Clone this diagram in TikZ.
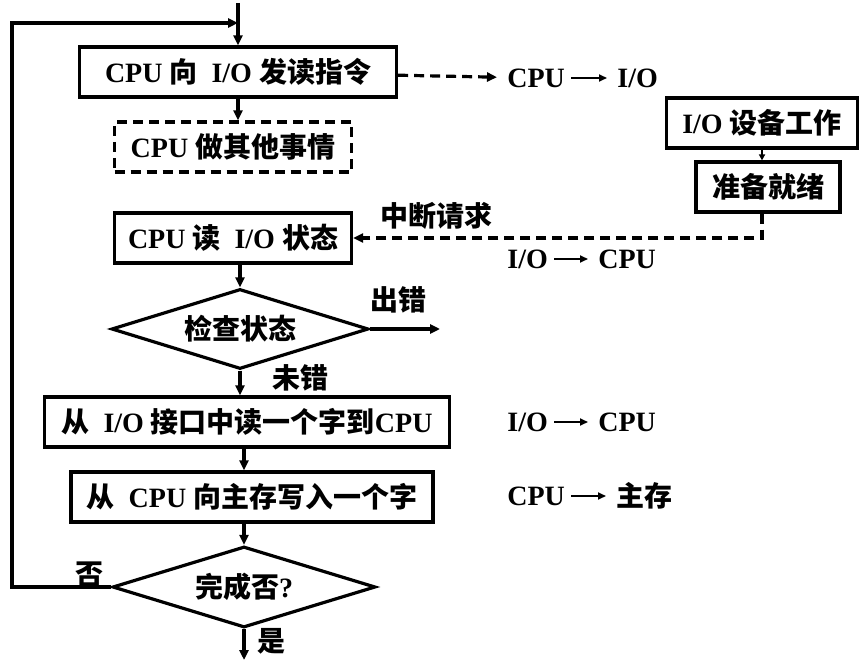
\documentclass[tikz,border=0pt]{standalone}
\usepackage{fontspec}
\setmainfont{Liberation Serif}
\newfontfamily\zhfont{Noto Sans CJK SC}
\newcommand{\zh}[1]{{\zhfont #1}}
\usetikzlibrary{arrows.meta, shapes.geometric}

\begin{document}
\begin{tikzpicture}[x=0.5pt, y=-0.5pt,
    font=\fontsize{14pt}{16pt}\selectfont\bfseries,
    procbox/.style={draw, line width=1.6pt, minimum height=25pt, inner sep=2pt},
    waitbox/.style={procbox, dashed, dash pattern=on 5pt off 3pt},
    testbox/.style={draw, diamond, line width=1.6pt, inner sep=0pt, aspect=3.2},
    flow/.style={line width=1.6pt, -{Triangle[length=5pt, width=4.5pt]}},
    dflow/.style={flow, dash pattern=on 5pt off 3pt},
    tag/.style={inner sep=1pt},
    xfer/.style={line width=0.9pt, shorten <=2pt, shorten >=4pt, -{Triangle[length=4pt, width=3.5pt]}}
  ]
  \useasboundingbox (0,0) rectangle (866,662);

  \node[procbox, minimum width=158.5pt] (sendcmd) at (238,72) {CPU \zh{向}\ \ I/O \zh{发读指令}};
  \node[waitbox, minimum width=118.5pt] (other) at (233,147) {CPU \zh{做其他事情}};
  \node[procbox, minimum width=118.5pt] (readst) at (233,238) {CPU \zh{读}\ \ I/O \zh{状态}};
  \node[testbox, minimum width=128.5pt, minimum height=40pt] (check) at (240,329) {\zh{检查状态}};
  \node[procbox, minimum width=202.5pt] (readword) at (247,422) {\zh{从}\ \ I/O \zh{接口中读一个字到}CPU};
  \node[procbox, minimum width=181pt] (writeword) at (252,497) {\zh{从}\ \ CPU \zh{向主存写入一个字}};
  \node[testbox, minimum width=131.5pt, minimum height=40.5pt] (done) at (244,587) {\zh{完成否}?};

  \node[procbox, minimum width=95.5pt] (devwork) at (762,123) {I/O \zh{设备工作}};
  \node[procbox, minimum width=72pt] (ready) at (768,187) {\zh{准备就绪}};

  \node[tag, anchor=west] (x1a) at (505,78) {CPU};
  \node[tag, anchor=west] (x1b) at (615,78) {I/O};
  \node[tag, anchor=west] (x2a) at (505,259) {I/O};
  \node[tag, anchor=west] (x2b) at (596,259) {CPU};
  \node[tag, anchor=west] (x3a) at (505,422) {I/O};
  \node[tag, anchor=west] (x3b) at (596,422) {CPU};
  \node[tag, anchor=west] (x4a) at (505,496) {CPU};
  \node[tag, anchor=west] (x4b) at (614,496) {\zh{主存}};

  \node[tag] (irq) at (436,216) {\zh{中断请求}};
  \node[tag] (err) at (398,300) {\zh{出错}};
  \node[tag] (ok) at (300,378) {\zh{未错}};
  \node[tag] (no) at (89,574) {\zh{否}};
  \node[tag] (yes) at (271,641) {\zh{是}};

  \coordinate (entry) at (238,3);
  \coordinate (join) at (238,23);
  \coordinate (loop) at (12,23);
  \coordinate (errout) at (440,329);
  \coordinate (finish) at (244,660);

  \draw[flow] (entry) -- (sendcmd);
  \draw[flow] (done.west) -| (loop) -- (join);
  \draw[flow] (sendcmd) -- (sendcmd.south |- other.north);
  \draw[dflow, shorten >=4pt] (sendcmd) -- (x1a);
  \draw[flow] (readst.south -| check.north) -- (check);
  \draw[flow] (check) -- (errout);
  \draw[flow] (check) -- (check.south |- readword.north);
  \draw[flow] (readword.south -| done.north) -- (writeword.north -| done.north);
  \draw[flow] (writeword.south -| done.north) -- (done);
  \draw[flow] (done) -- (finish);
  \draw[line width=1.2pt, -{Triangle[length=3pt, width=3pt]}] (devwork) -- (devwork.south |- ready.north);
  \draw[dflow] (devwork.south |- ready.south) |- (readst);

  \draw[xfer] (x1a) -- (x1b);
  \draw[xfer] (x2a) -- (x2b);
  \draw[xfer] (x3a) -- (x3b);
  \draw[xfer] (x4a) -- (x4b);
\end{tikzpicture}
\end{document}
